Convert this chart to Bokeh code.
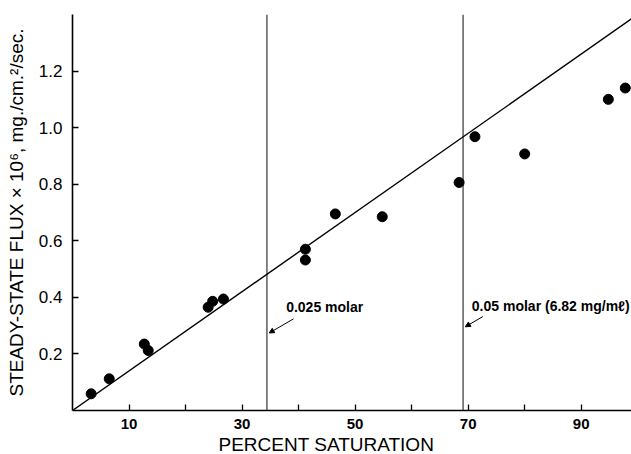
from bokeh.plotting import figure
from bokeh.models import Range1d, FixedTicker, Label, Arrow, NormalHead, Title
from bokeh.embed import file_html
from bokeh.resources import INLINE

# Measured steady-state flux against percent saturation
saturation = [3.3, 6.5, 12.7, 13.4, 24.0, 24.8, 26.7, 41.2, 41.2, 46.5,
              54.8, 68.4, 71.2, 80.0, 94.8, 97.8]
flux = [0.059, 0.112, 0.235, 0.212, 0.365, 0.386, 0.394, 0.570, 0.532, 0.695,
        0.685, 0.806, 0.968, 0.907, 1.100, 1.140]

# Straight-line fit through the origin
fit_x = [0, 100]
fit_y = [0, 1.40]

# Concentration markers (percent saturation) and their notes
molar_x = [34.4, 69.1]
molar_text = ["0.025 molar", "0.05 molar (6.82 mg/m\u2113)"]
note_x = [37.8, 70.65]
note_y = [0.367, 0.371]
arrow_start = [(39.1, 0.324), (72.6, 0.332)]
arrow_end = [(34.8, 0.274), (69.5, 0.296)]

x_ticks = [10, 20, 30, 40, 50, 60, 70, 80, 90]
x_tick_text = ["10", "", "30", "", "50", "", "70", "", "90"]
y_ticks = [0.2, 0.4, 0.6, 0.8, 1.0, 1.2]
y_tick_text = ["0.2", "0.4", "0.6", "0.8", "1.0", "1.2"]

X_MAX, Y_MAX = 98.9, 1.40

sans = "'Liberation Sans', Arial, Helvetica, sans-serif"

p = figure(width=631, height=454, output_backend="svg", toolbar_location=None,
           x_range=Range1d(0, X_MAX), y_range=Range1d(0, Y_MAX),
           min_border_left=72, min_border_right=0, min_border_top=14,
           min_border_bottom=44)
p.outline_line_color = None
p.xgrid.visible = False
p.ygrid.visible = False
p.background_fill_color = "white"
p.border_fill_color = "white"

# Axes
for ax in (p.xaxis, p.yaxis):
    ax.axis_line_color = "black"
    ax.axis_line_width = 1.6
    ax.major_tick_line_color = "black"
    ax.major_tick_line_width = 1.3
    ax.major_tick_in = 6
    ax.major_tick_out = 0
    ax.minor_tick_line_color = None
    ax.major_label_text_color = "black"
    ax.major_label_text_font = sans

p.xaxis.ticker = FixedTicker(ticks=x_ticks)
p.xaxis.major_label_overrides = dict(zip(x_ticks, x_tick_text))
p.xaxis.major_label_text_font_size = "15px"
p.xaxis.major_label_text_font_style = "bold"
p.xaxis.major_label_standoff = 8

p.yaxis.ticker = FixedTicker(ticks=y_ticks)
p.yaxis.major_label_overrides = dict(zip(y_ticks, y_tick_text))
p.yaxis.major_label_text_font_size = "17px"
p.yaxis.major_label_standoff = 10
p.yaxis.axis_label = "STEADY-STATE FLUX \u00d7 10\u2076, mg./cm.\u00b2/sec."
p.yaxis.axis_label_text_font = sans
p.yaxis.axis_label_text_font_size = "19px"
p.yaxis.axis_label_text_font_style = "normal"
p.yaxis.axis_label_text_color = "black"
p.yaxis.axis_label_standoff = 9

# x-axis title, set left of the frame centre
p.add_layout(Title(text="PERCENT SATURATION", align="left", offset=146,
                   text_font=sans, text_font_size="19px",
                   text_font_style="normal", text_color="black",
                   standoff=0), "below")

# Concentration markers
p.segment(x0=molar_x, y0=[0, 0], x1=molar_x, y1=[Y_MAX, Y_MAX],
          line_color="#222222", line_width=1.1)

# Fit line and data points
p.line(fit_x, fit_y, line_color="black", line_width=1.4)
p.scatter(saturation, flux, size=10, color="black")

# Notes with arrows
for tx, ty, txt, (sx, sy), (ex, ey) in zip(note_x, note_y, molar_text,
                                            arrow_start, arrow_end):
    p.add_layout(Label(x=tx, y=ty, text=txt, text_font=sans,
                       text_font_size="14px", text_font_style="bold",
                       text_color="black", text_baseline="middle"))
    p.add_layout(Arrow(x_start=sx, y_start=sy, x_end=ex, y_end=ey,
                       line_color="black", line_width=1,
                       end=NormalHead(size=5, fill_color="black",
                                      line_color="black")))

open("out.html", "w").write(file_html(p, INLINE))
